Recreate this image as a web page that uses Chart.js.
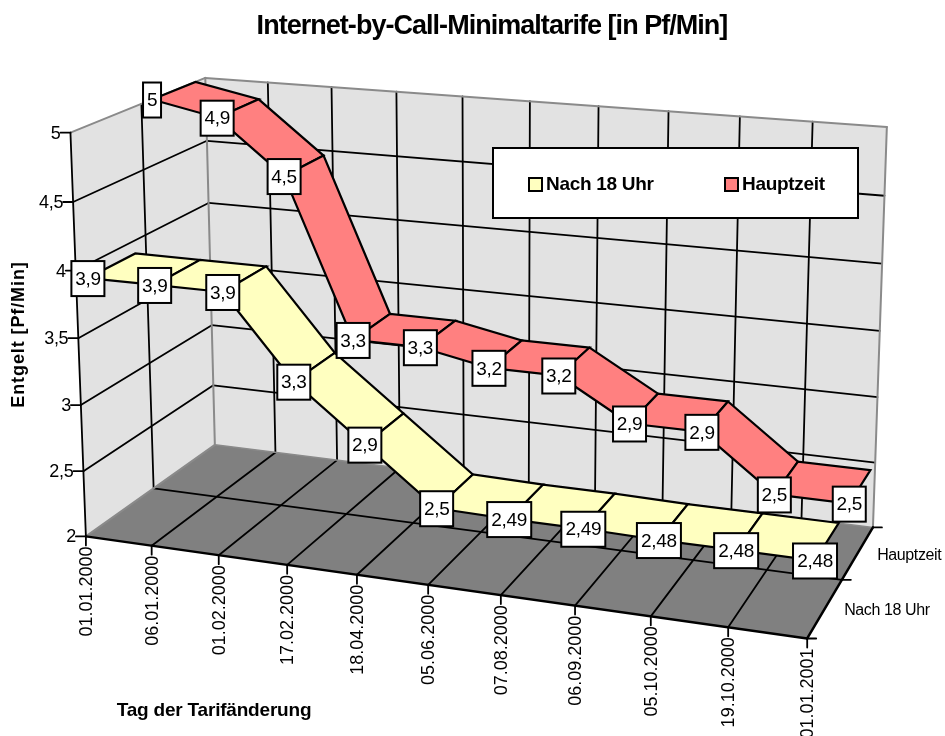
<!DOCTYPE html>
<html>
<head>
<meta charset="utf-8">
<title>Internet-by-Call-Minimaltarife</title>
<script src="https://cdn.jsdelivr.net/npm/chart.js@4"></script>
<style>
  html, body { margin: 0; padding: 0; background: #fff; overflow: hidden; }
  canvas { display: block; }
</style>
</head>
<body>
<canvas id="chart" width="945" height="736"></canvas>
<script>
const dates = ['01.01.2000','06.01.2000','01.02.2000','17.02.2000','18.04.2000','05.06.2000','07.08.2000','06.09.2000','05.10.2000','19.10.2000','01.01.2001'];
const nach18 = [3.9,3.9,3.9,3.3,2.9,2.5,2.49,2.49,2.48,2.48,2.48];
const hauptzeit = [5,4.9,4.5,3.3,3.3,3.2,3.2,2.9,2.9,2.5,2.5];
const valueTicks = [2,2.5,3,3.5,4,4.5,5];
const seriesNames = ['Nach 18 Uhr','Hauptzeit'];

const YELLOW = '#FFFFC0', RED = '#FF8080', WALL = '#E2E2E2', FLOOR = '#808080', GRAY = '#8A8A8A';
const FONT = '"Liberation Sans", Arial, sans-serif';

// camera calibration: box corner (category, value, depth) -> screen pixel
const anchors = [
  [0,2,0,85,536],[10,2,0,807,638],[10,2,1,873,528],[0,2,1,215,444],
  [0,5,0,72,132],[0,5,1,205,78],[10,5,1,887,127],
  [1,2,0,152,546],[2,2,0,220,556],[3,2,0,287,565],[9,2,0,728,627],
  [5,5,1,529,102],[9,5,1,813,121],[0,4,0,74,271],[0,4,1,209,203]
];

function fitCamera(pts) {
  const n = 11;
  const A = Array.from({ length: n }, () => new Array(n + 1).fill(0));
  const addRow = (row, rhs) => {
    for (let i = 0; i < n; i++) {
      for (let j = 0; j < n; j++) A[i][j] += row[i] * row[j];
      A[i][n] += row[i] * rhs;
    }
  };
  pts.forEach(([c, v, d, px, py]) => {
    const u = px / 1000, w = py / 1000;
    addRow([c, v, d, 1, 0, 0, 0, 0, -u * c, -u * v, -u * d], u);
    addRow([0, 0, 0, 0, c, v, d, 1, -w * c, -w * v, -w * d], w);
  });
  for (let i = 0; i < n; i++) {
    let p = i;
    for (let r = i + 1; r < n; r++) if (Math.abs(A[r][i]) > Math.abs(A[p][i])) p = r;
    [A[i], A[p]] = [A[p], A[i]];
    for (let r = 0; r < n; r++) {
      if (r === i) continue;
      const f = A[r][i] / A[i][i];
      for (let k = i; k <= n; k++) A[r][k] -= f * A[i][k];
    }
  }
  return A.map((row, i) => row[n] / row[i]);
}
const cam = fitCamera(anchors);

function project(c, v, d) {
  const w = cam[8] * c + cam[9] * v + cam[10] * d + 1;
  return {
    x: 1000 * (cam[0] * c + cam[1] * v + cam[2] * d + cam[3]) / w,
    y: 1000 * (cam[4] * c + cam[5] * v + cam[6] * d + cam[7]) / w
  };
}

const lastCat = dates.length - 1;
const vMin = valueTicks[0], vMax = valueTicks[valueTicks.length - 1];
// depth band of each ribbon inside the box
const bands = [[0.08, 0.42], [0.58, 0.92]];
const marks = []; // in paint order, back to front

function shape(points, color, stroke, width) {
  marks.push({
    data: points, showLine: true, pointRadius: 0, fill: 'shape',
    backgroundColor: color, borderColor: stroke || color, borderWidth: stroke ? (width || 1.5) : 0
  });
}
function line(a, b, color, width) {
  marks.push({
    data: [a, b], showLine: true, pointRadius: 0, fill: false,
    borderColor: color, borderWidth: width, borderCapStyle: 'round'
  });
}

// walls and floor
shape([project(0,vMin,1), project(lastCat,vMin,1), project(lastCat,vMax,1), project(0,vMax,1)], WALL);
shape([project(0,vMin,0), project(0,vMin,1), project(0,vMax,1), project(0,vMax,0)], WALL);
shape([project(0,vMin,0), project(lastCat,vMin,0), project(lastCat,vMin,1), project(0,vMin,1)], FLOOR);

// grid
valueTicks.slice(1, -1).forEach(v => {
  line(project(0,v,0), project(0,v,1), '#000', 1.8);
  line(project(0,v,1), project(lastCat,v,1), '#000', 1.8);
});
dates.forEach((_, c) => {
  if (c === 0 || c === lastCat) return;
  line(project(c,vMin,1), project(c,vMax,1), '#000', 1.8);
  line(project(c,vMin,0), project(c,vMin,1), '#000', 1.8);
});
line(project(0,vMin,0.5), project(0,vMax,0.5), '#000', 1.8);
line(project(0,vMin,0.5), project(lastCat,vMin,0.5), '#000', 1.8);

// wall edges
line(project(0,vMax,0), project(0,vMax,1), GRAY, 2);
line(project(0,vMax,1), project(lastCat,vMax,1), GRAY, 2);
line(project(0,vMin,1), project(0,vMax,1), GRAY, 2);
line(project(lastCat,vMin,1), project(lastCat,vMax,1), GRAY, 2);
line(project(0,vMin,0), project(0,vMin,1), GRAY, 2);
line(project(0,vMin,1), project(lastCat,vMin,1), GRAY, 1.5);

// axes and ticks
const moved = (p, dx, dy) => ({ x: p.x + dx, y: p.y + dy });
line(project(0,vMin,0), project(0,vMax,0), '#000', 1.8);
line(project(0,vMin,0), project(lastCat,vMin,0), '#000', 2.5);
line(project(lastCat,vMin,0), project(lastCat,vMin,1), '#000', 2.5);
valueTicks.forEach(v => line(project(0,v,0), moved(project(0,v,0), -10, 0), '#000', 1.8));
dates.forEach((_, c) => line(project(c,vMin,0), moved(project(c,vMin,0), 0, 9), '#000', 1.8));
[0, 0.5, 1].forEach(d => line(project(lastCat,vMin,d), moved(project(lastCat,vMin,d), 9, 0), '#000', 1.8));

// ribbons, far series first
function ribbon(values, band, color) {
  for (let c = 0; c < values.length - 1; c++) {
    shape([
      project(c, values[c], band[0]), project(c + 1, values[c + 1], band[0]),
      project(c + 1, values[c + 1], band[1]), project(c, values[c], band[1]),
      project(c, values[c], band[0])
    ], color, '#000', 2.2);
  }
}
ribbon(hauptzeit, bands[1], RED);
ribbon(nach18, bands[0], YELLOW);

marks.forEach((m, i) => { m.order = marks.length - i; });

function text(ctx, str, x, y, font, opts = {}) {
  ctx.save();
  ctx.translate(x, y);
  if (opts.rot) ctx.rotate(opts.rot);
  ctx.font = font;
  ctx.letterSpacing = opts.spacing || '0px';
  ctx.textAlign = opts.align || 'center';
  ctx.textBaseline = 'middle';
  ctx.fillStyle = '#000';
  ctx.fillText(str, 0, 0);
  ctx.restore();
}

const annotations = {
  id: 'annotations',
  afterDatasetsDraw(chart) {
    const { ctx, scales } = chart;
    const at = p => ({ x: scales.x.getPixelForValue(p.x), y: scales.y.getPixelForValue(p.y) });

    // value boxes on the front corner of each ribbon
    const valueBox = (v, p) => {
      const label = String(v).replace('.', ',');
      ctx.font = '19px ' + FONT;
      const w = Math.round(ctx.measureText(label).width) + 7, h = 35;
      const cx = p.x, cy = p.y + 0.5;
      ctx.fillStyle = '#fff';
      ctx.strokeStyle = '#000';
      ctx.lineWidth = 2;
      ctx.fillRect(cx - w / 2, cy - h / 2, w, h);
      ctx.strokeRect(cx - w / 2, cy - h / 2, w, h);
      text(ctx, label, cx, cy + 1, '19px ' + FONT, { spacing: '-0.3px' });
    };
    hauptzeit.forEach((v, c) => valueBox(v, at(project(c, v, bands[1][0]))));
    nach18.forEach((v, c) => valueBox(v, at(project(c, v, bands[0][0]))));

    // axis labels
    valueTicks.forEach(v => {
      const p = at(project(0, v, 0));
      text(ctx, String(v).replace('.', ','), p.x - 10, p.y + 1, '18px ' + FONT, { align: 'right', spacing: '-0.3px' });
    });
    dates.forEach((d, c) => {
      const p = at(project(c, vMin, 0));
      text(ctx, d, p.x + 1, p.y + 10, '18px ' + FONT, { rot: -Math.PI / 2, align: 'right' });
    });
    const corner = at(project(lastCat, vMin, 0));
    text(ctx, seriesNames[1], corner.x + 70, corner.y - 83, '16px ' + FONT, { align: 'left', spacing: '-0.4px' });
    text(ctx, seriesNames[0], corner.x + 37, corner.y - 28, '16px ' + FONT, { align: 'left', spacing: '-0.4px' });

    // titles
    text(ctx, 'Internet-by-Call-Minimaltarife [in Pf/Min]', 492, 27, 'bold 27px ' + FONT, { spacing: '-0.97px' });
    text(ctx, 'Entgelt [Pf/Min]', 19, 334.5, 'bold 18px ' + FONT, { rot: -Math.PI / 2, spacing: '0.9px' });
    text(ctx, 'Tag der Tarifänderung', 214, 711, 'bold 19px ' + FONT, { spacing: '-0.2px' });

    // legend
    ctx.fillStyle = '#fff';
    ctx.strokeStyle = '#000';
    ctx.lineWidth = 2;
    ctx.fillRect(493, 148, 365, 70);
    ctx.strokeRect(493, 148, 365, 70);
    [[529, YELLOW], [725, RED]].forEach(([x, color], i) => {
      ctx.fillStyle = color;
      ctx.fillRect(x, 178, 13, 13);
      ctx.strokeRect(x, 178, 13, 13);
      text(ctx, seriesNames[i], x + 17, 185, 'bold 19px ' + FONT, { align: 'left', spacing: '-0.3px' });
    });
  }
};

new Chart(document.getElementById('chart').getContext('2d'), {
  type: 'scatter',
  data: { datasets: marks },
  options: {
    responsive: false,
    animation: false,
    events: [],
    layout: { padding: 0 },
    scales: {
      x: { type: 'linear', min: 0, max: 945, display: false },
      y: { type: 'linear', min: 0, max: 736, reverse: true, display: false }
    },
    plugins: { legend: { display: false }, title: { display: false }, tooltip: { enabled: false } }
  },
  plugins: [annotations]
});
</script>
</body>
</html>
